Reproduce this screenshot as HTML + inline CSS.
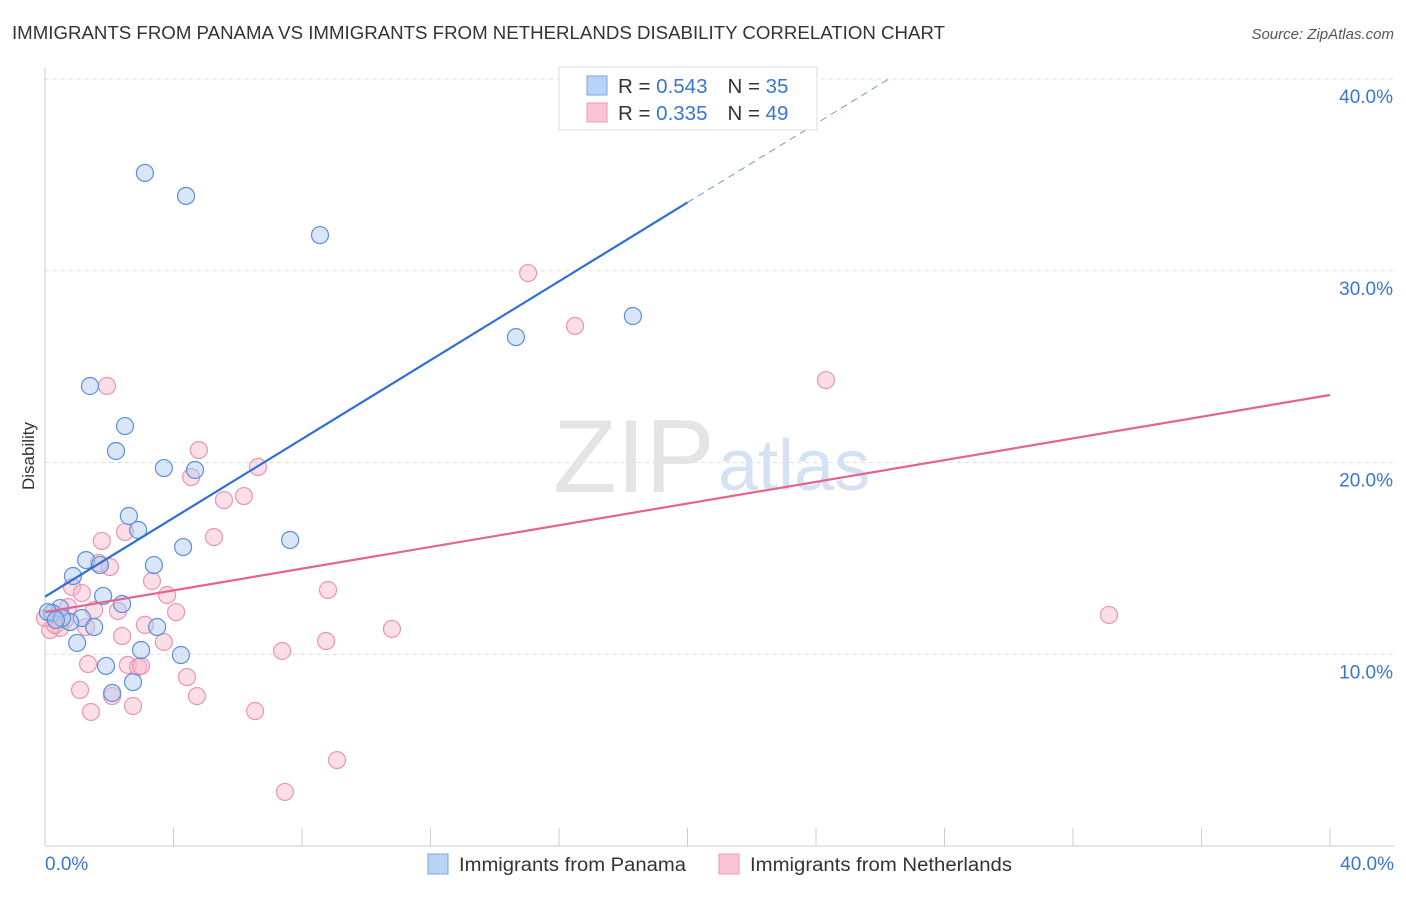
<!DOCTYPE html>
<html><head><meta charset="utf-8"><style>
body{margin:0;background:#fff;font-family:"Liberation Sans",sans-serif;}
svg text{font-family:"Liberation Sans",sans-serif;}
</style></head><body>
<svg id="c" width="1406" height="892" xmlns="http://www.w3.org/2000/svg">
<text x="12" y="39" font-size="18" fill="#333" textLength="933" lengthAdjust="spacingAndGlyphs">IMMIGRANTS FROM PANAMA VS IMMIGRANTS FROM NETHERLANDS DISABILITY CORRELATION CHART</text>
<text x="1394" y="39" font-size="15" fill="#555" font-style="italic" text-anchor="end">Source: ZipAtlas.com</text>
<text x="34" y="456" font-size="17" fill="#333" transform="rotate(-90 34 456)" text-anchor="middle">Disability</text>
<g id="grid"></g>
<text x="553" y="492" font-size="104" fill="#e4e4e4" font-family="Liberation Serif">ZIP</text>
<text x="718" y="490" font-size="72" fill="#d5e2f3">atlas</text>
<g id="marks"></g>
<g>
<rect x="559" y="67" width="258" height="63" fill="#fff" stroke="#ddd"/>
<rect x="587" y="76" width="20" height="19" fill="#b9d3f5" stroke="#7aa6e2"/>
<rect x="587" y="103" width="20" height="19" fill="#f9c5d5" stroke="#ec97b2"/>
<text x="618" y="93" font-size="20.5" fill="#333">R = <tspan fill="#3a75d0">0.543</tspan><tspan dx="20">N = </tspan><tspan fill="#3a75d0">35</tspan></text>
<text x="618" y="120" font-size="20.5" fill="#333">R = <tspan fill="#3a75d0">0.335</tspan><tspan dx="20">N = </tspan><tspan fill="#3a75d0">49</tspan></text>
</g>
<g>
<rect x="428" y="854" width="20" height="20" fill="#b9d3f5" stroke="#7aa6e2"/>
<text x="459" y="871" font-size="19" fill="#333" textLength="227" lengthAdjust="spacingAndGlyphs">Immigrants from Panama</text>
<rect x="719" y="854" width="20" height="20" fill="#f9c5d5" stroke="#ec97b2"/>
<text x="750" y="871" font-size="19" fill="#333" textLength="262" lengthAdjust="spacingAndGlyphs">Immigrants from Netherlands</text>
</g>
</svg>
<script>
const yTicks=[10,20,30,40];
const yTickLabels=["10.0%","20.0%","30.0%","40.0%"];
const xTickLabels=["0.0%","40.0%"];
const panamaX=[3.11,4.39,8.56,14.66,18.30,1.40,2.49,2.21,3.70,4.67,2.61,2.90,4.30,7.63,1.28,1.71,3.39,0.87,1.81,2.40,0.47,0.22,1.15,0.78,1.53,3.49,1.00,2.99,4.23,1.90,2.74,2.09,0.09,0.53,0.34];
const panamaY=[35.10,33.90,31.86,26.54,27.64,23.99,21.90,20.60,19.71,19.61,17.21,16.48,15.59,15.96,14.91,14.65,14.65,14.08,13.04,12.62,12.41,12.15,11.89,11.68,11.42,11.42,10.59,10.22,9.96,9.39,8.55,7.98,12.20,11.89,11.79];
const nethX=[15.04,16.50,24.31,1.93,4.79,6.63,4.55,6.19,5.57,2.49,5.26,1.77,1.68,2.02,3.33,0.84,1.15,8.81,3.80,0.72,1.53,2.27,4.08,33.12,3.11,10.80,0.47,0.16,1.28,2.40,3.70,8.75,7.38,1.34,2.58,2.90,2.99,4.42,1.09,2.09,4.73,1.43,2.74,6.54,9.09,7.47,0.31,0.62,0.0];
const nethY=[29.88,27.12,24.30,23.99,20.65,19.77,19.24,18.25,18.04,16.38,16.11,15.91,14.76,14.55,13.82,13.51,13.19,13.35,13.09,12.46,12.31,12.26,12.20,12.05,11.53,11.32,11.37,11.26,11.42,10.95,10.64,10.69,10.17,9.49,9.44,9.33,9.39,8.81,8.14,7.82,7.82,6.99,7.30,7.04,4.48,2.82,11.53,11.79,11.89];
const panamaFit=[13.0,1.028];
const nethFit=[12.2,0.283];
const X0=45,X1=1330,Y0=846,Y40=79;
const sx=v=>X0+(v/40)*(X1-X0);
const sy=v=>Y0-(v/40)*(Y0-Y40);
const NS="http://www.w3.org/2000/svg";
function mk(t,a,p){const e=document.createElementNS(NS,t);for(const k in a)e.setAttribute(k,a[k]);p.appendChild(e);return e;}
const grid=document.getElementById('grid'),marks=document.getElementById('marks');
yTicks.forEach((t,i)=>{
 const g=mk('line',{x1:X0,x2:1394,y1:sy(t),y2:sy(t),stroke:'#ddd','stroke-dasharray':'4,4'},grid);
 
 
 const l=mk('text',{x:1393,y:sy(t)+24,'font-size':19,fill:'#3a75d0','text-anchor':'end'},grid);
 l.textContent=yTickLabels[i];
 
 
});
const ax=mk('line',{x1:X0,x2:X0,y1:68,y2:Y0,stroke:'#ccc'},grid);


const bx=mk('line',{x1:X0,x2:1394,y1:Y0,y2:Y0,stroke:'#ccc'},grid);


for(let i=0;i<=10;i++){
 const t=mk('line',{x1:sx(i*4),x2:sx(i*4),y1:Y0-18,y2:Y0,stroke:'#ccc'},grid);
 
 
}
[[0,'start',45],[40,'end',1394]].forEach((d,i)=>{
 const l=mk('text',{x:d[2],y:870,'font-size':19,fill:'#3a75d0','text-anchor':d[1]},grid);
 l.textContent=xTickLabels[i];
 
 
});
function dots(xs,ys,fill,stroke,name){
 xs.forEach((x,i)=>{
  const c=mk('circle',{cx:sx(x),cy:sy(ys[i]),r:8.5,fill:fill,stroke:stroke,'stroke-width':1.2},marks);
  
  
 });
}
dots(nethX,nethY,'rgba(248,182,202,0.45)','#eb95b1','netherlands-point');
dots(panamaX,panamaY,'rgba(170,200,240,0.45)','#5d8fd8','panama-point');
const pl=mk('line',{x1:sx(0),y1:sy(nethFit[0]),x2:sx(40),y2:sy(nethFit[0]+nethFit[1]*40),stroke:'#e4638f','stroke-width':2.2},marks);


const bl=mk('line',{x1:sx(0),y1:sy(panamaFit[0]),x2:sx(20),y2:sy(panamaFit[0]+panamaFit[1]*20),stroke:'#2f6fd3','stroke-width':2.2},marks);


const xe=(40-panamaFit[0])/panamaFit[1];
const bd=mk('line',{x1:sx(20),y1:sy(panamaFit[0]+panamaFit[1]*20),x2:sx(xe),y2:sy(40),stroke:'#6f98d8','stroke-width':1,'stroke-dasharray':'7,5'},marks);


</script>
</body></html>
